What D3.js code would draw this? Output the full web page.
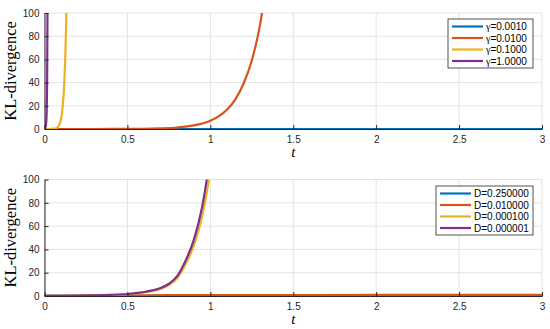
<!DOCTYPE html>
<head>
  <meta charset="utf-8">
  <style>
    body { margin: 0; background: #fff; }
    svg text { font-family: "Liberation Sans", Arial, sans-serif; fill: #262626; }
    .tick text { font-size: 10px; }
    .lbl { font-family: "Liberation Serif", "DejaVu Serif", serif; fill: #000; }
  </style>
</head>
<body>
  <svg width=550 height=329 id="chart"></svg>
  <script src="https://d3js.org/d3.v7.min.js"></script>
  <script>
    // top panel: KL-divergence for different gamma
    let gammaLabels = ["0.0010", "0.0100", "0.1000", "1.0000"];
    let gammaT = [
      [0, 0.5, 1, 1.5, 2, 2.5, 3],
      [0, 0.2, 0.4, 0.5, 0.6, 0.7, 0.8, 0.9, 1.0, 1.05, 1.1, 1.15, 1.2, 1.25, 1.3, 1.32],
      [0, 0.02, 0.04, 0.06, 0.07, 0.08, 0.09, 0.1, 0.11, 0.12, 0.13, 0.135],
      [0, 0.005, 0.01, 0.013, 0.016, 0.019]
    ];
    let gammaKL = [
      [0, 0, 0, 0, 0, 0, 0],
      [0.002, 0.008, 0.04, 0.1, 0.2, 0.55, 1.3, 3.1, 7.2, 10.9, 16.6, 25.4, 39, 59, 90, 108],
      [0, 0.01, 0.05, 0.3, 0.7, 1.7, 4, 9, 20, 42, 88, 130],
      [0.1, 1, 5, 15, 45, 130]
    ];

    // bottom panel: KL-divergence for different D
    let dLabels = ["0.250000", "0.010000", "0.000100", "0.000001"];
    let dT = [
      [0, 0.5, 1, 1.5, 2, 2.5, 3],
      [0, 0.25, 0.5, 0.75, 1, 1.5, 2, 2.5, 3],
      [0, 0.1, 0.2, 0.3, 0.4, 0.5, 0.55, 0.6, 0.65, 0.7, 0.75, 0.8, 0.85, 0.9, 0.95, 1.0, 1.02],
      [0, 0.1, 0.2, 0.3, 0.4, 0.5, 0.55, 0.6, 0.65, 0.7, 0.75, 0.8, 0.85, 0.9, 0.95, 1.0]
    ];
    let dKL = [
      [0.05, 0.1, 0.1, 0.1, 0.1, 0.1, 0.1],
      [0.1, 0.3, 0.5, 0.7, 0.8, 0.85, 0.9, 0.9, 0.9],
      [0.1, 0.2, 0.33, 0.55, 0.9, 1.5, 2.1, 3.0, 4.3, 6.1, 9.4, 15.2, 27, 43, 68, 108, 130],
      [0.1, 0.2, 0.35, 0.6, 1.0, 1.7, 2.4, 3.4, 4.8, 6.8, 10.5, 17, 30, 48, 76, 120]
    ];

    let xTicks = [0, 0.5, 1, 1.5, 2, 2.5, 3];
    let yTicks = [0, 20, 40, 60, 80, 100];
    let colors = ["#0072BD", "#D95319", "#EDB120", "#7E2F8E"];

    let svg = d3.select("#chart");

    function panel(id, top, bottom, ts, vals, prefix, labels, legX, legY, legW) {
      let x = d3.scaleLinear().domain([0, 3]).range([44.5, 542]),
          y = d3.scaleLinear().domain([0, 100]).range([bottom, top]);
      let g = svg.append("g");

      g.append("clipPath").attr("id", id)
        .append("rect").attr("x", 44.5).attr("y", top).attr("width", 542 - 44.5).attr("height", bottom - top);

      // grid
      g.selectAll(".gx").data(xTicks).enter().append("line")
        .attr("x1", d => x(d)).attr("x2", d => x(d)).attr("y1", top).attr("y2", bottom)
        .attr("stroke", "#e3e3e3").attr("stroke-width", 1);
      g.selectAll(".gy").data(yTicks).enter().append("line")
        .attr("x1", 44.5).attr("x2", 542).attr("y1", d => y(d)).attr("y2", d => y(d))
        .attr("stroke", "#e3e3e3").attr("stroke-width", 1);

      let line = d3.line().x(d => x(d[0])).y(d => y(d[1]));
      g.append("g").attr("clip-path", "url(#" + id + ")")
        .selectAll("path").data(ts.map((t, i) => t.map((v, j) => [v, vals[i][j]])))
        .enter().append("path")
        .attr("d", d => line.curve(d3.curveMonotoneX)(d))
        .attr("fill", "none")
        .attr("stroke", (d, i) => colors[i])
        .attr("stroke-width", 2.2);

      let xa = g.append("g").attr("transform", "translate(0," + bottom + ")")
        .call(d3.axisBottom(x).tickValues(xTicks).tickSizeInner(-4).tickSizeOuter(0).tickPadding(7).tickFormat(d3.format("")));
      let ya = g.append("g").attr("transform", "translate(44.5,0)")
        .call(d3.axisLeft(y).tickValues(yTicks).tickSizeInner(-4).tickSizeOuter(0).tickPadding(5));
      [xa, ya].forEach(a => {
        a.select(".domain").attr("stroke", "#262626");
        a.selectAll(".tick line").attr("stroke", "#262626");
      });

      g.append("text").attr("class", "lbl").style("font-size", "16.5px")
        .attr("transform", "translate(16," + ((top + bottom) / 2) + ") rotate(-90)")
        .attr("text-anchor", "middle").text("KL-divergence");
      g.append("text").attr("class", "lbl").style("font-size", "15px")
        .attr("x", x(1.5)).attr("y", bottom + 28).attr("text-anchor", "middle")
        .style("font-style", "italic").text("t");

      // legend
      let lg = g.append("g").attr("transform", "translate(" + legX + "," + legY + ")");
      lg.append("rect").attr("width", legW).attr("height", 49)
        .attr("fill", "#fff").attr("stroke", "#262626").attr("stroke-width", 0.8);
      labels.forEach((l, i) => {
        let yy = 7.5 + i * 11.5;
        lg.append("line").attr("x1", 4).attr("x2", 35).attr("y1", yy).attr("y2", yy)
          .attr("stroke", colors[i]).attr("stroke-width", 2.2);
        let t = lg.append("text").attr("x", 38).attr("y", yy + 3.5).style("font-size", "10px").style("fill", "#000");
        if (prefix == "γ") {
          t.append("tspan").style("font-family", "Liberation Serif, serif").text("γ");
        } else {
          t.append("tspan").text(prefix);
        }
        t.append("tspan").text("=" + l);
      });
    }

    panel("clipTop", 13, 129, gammaT, gammaKL, "γ", gammaLabels, 448, 19, 85);
    panel("clipBot", 179.5, 296, dT, dKL, "D", dLabels, 436, 186, 97);
  </script>
</body>
